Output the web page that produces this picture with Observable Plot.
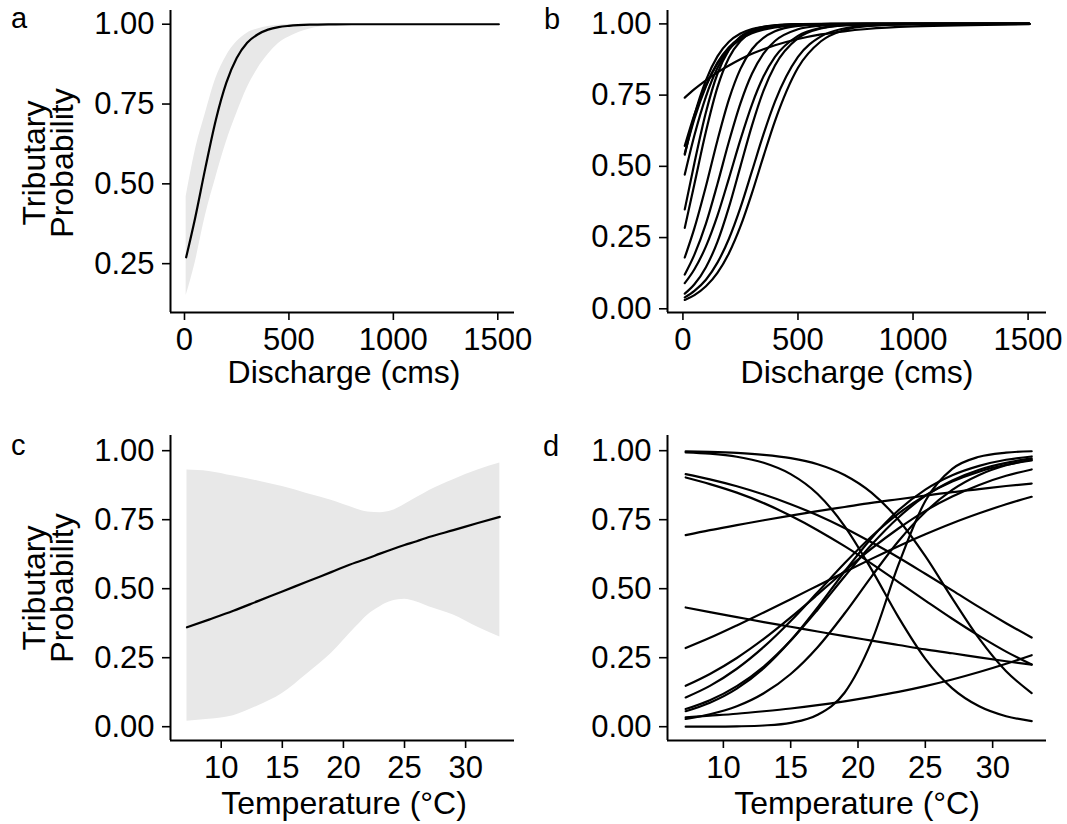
<!DOCTYPE html>
<html>
<head>
<meta charset="utf-8">
<script src="https://cdn.jsdelivr.net/npm/d3@7"></script>
<script src="https://cdn.jsdelivr.net/npm/@observablehq/plot@0.6"></script>
<style>
  body { margin: 0; background: #fff; }
  #fig { position: relative; width: 1067px; height: 824px; overflow: hidden; background: #fff; }
  #fig svg { position: absolute; }
  #fig g[aria-label$="tick"] { stroke-width: 1.6px; }
</style>
</head>
<body>
<div id="fig"></div>
<script>
// ---------- Panel a: discharge, fitted probability with ribbon ----------
const dischargeX = [8, 50, 100, 150, 200, 250, 300, 350, 400, 450, 500, 600, 700, 800, 1000, 1200, 1505];
const aFit   = [0.27, 0.39, 0.55, 0.70, 0.816, 0.894, 0.942, 0.968, 0.983, 0.991, 0.995, 0.9987, 0.9997, 1, 1, 1, 1];
const aUpper = [0.46, 0.60, 0.72, 0.83, 0.90, 0.945, 0.972, 0.985, 0.993, 0.997, 0.999, 1, 1, 1, 1, 1, 1];
const aLower = [0.15, 0.25, 0.40, 0.52, 0.63, 0.72, 0.80, 0.86, 0.905, 0.94, 0.96, 0.985, 0.995, 0.999, 1, 1, 1];

// ---------- Panel b: discharge, individual curves ----------
const bX = [8, 50, 100, 150, 200, 250, 300, 350, 400, 500, 600, 700, 800, 1000, 1505];
const bCurves = [
  [0.741, 0.771, 0.802, 0.830, 0.854, 0.876, 0.895, 0.911, 0.925, 0.947, 0.963, 0.974, 0.982, 0.991, 0.999],
  [0.572, 0.682, 0.784, 0.860, 0.912, 0.946, 0.967, 0.980, 0.988, 0.996, 0.9986, 0.9995, 1, 1, 1],
  [0.545, 0.667, 0.781, 0.864, 0.918, 0.952, 0.973, 0.984, 0.991, 0.997, 0.9991, 0.9997, 1, 1, 1],
  [0.541, 0.679, 0.802, 0.886, 0.937, 0.966, 0.982, 0.990, 0.995, 0.9986, 0.9996, 1, 1, 1, 1],
  [0.471, 0.609, 0.745, 0.845, 0.911, 0.950, 0.973, 0.985, 0.992, 0.9977, 0.9993, 1, 1, 1, 1],
  [0.349, 0.512, 0.690, 0.825, 0.909, 0.955, 0.978, 0.990, 0.995, 0.9989, 0.9998, 1, 1, 1, 1],
  [0.284, 0.438, 0.622, 0.777, 0.881, 0.940, 0.971, 0.986, 0.993, 0.9985, 0.9997, 1, 1, 1, 1],
  [0.180, 0.283, 0.430, 0.591, 0.735, 0.842, 0.911, 0.951, 0.974, 0.993, 0.998, 0.9995, 1, 1, 1],
  [0.120, 0.190, 0.299, 0.438, 0.587, 0.721, 0.825, 0.896, 0.940, 0.981, 0.994, 0.9983, 0.9995, 1, 1],
  [0.090, 0.139, 0.219, 0.327, 0.458, 0.594, 0.717, 0.815, 0.884, 0.958, 0.986, 0.9952, 0.9984, 0.9998, 1],
  [0.053, 0.086, 0.146, 0.235, 0.357, 0.500, 0.643, 0.765, 0.854, 0.950, 0.984, 0.995, 0.9985, 0.9999, 1],
  [0.040, 0.063, 0.102, 0.162, 0.246, 0.355, 0.483, 0.612, 0.727, 0.884, 0.956, 0.984, 0.9944, 0.9993, 1],
  [0.031, 0.048, 0.079, 0.126, 0.195, 0.289, 0.406, 0.535, 0.659, 0.846, 0.939, 0.978, 0.992, 0.999, 1]
];

// ---------- Panel c: temperature, fitted probability with ribbon ----------
const tempC  = [7.2, 9, 11, 13, 15, 17, 19, 21, 22, 23, 24, 25, 26, 27, 29, 31, 32.8];
const cFit   = [0.36, 0.388, 0.42, 0.455, 0.49, 0.525, 0.56, 0.595, 0.61, 0.627, 0.643, 0.658, 0.672, 0.687, 0.712, 0.738, 0.76];
const cUpper = [0.93, 0.925, 0.908, 0.89, 0.87, 0.845, 0.82, 0.79, 0.778, 0.775, 0.783, 0.805, 0.83, 0.855, 0.895, 0.93, 0.955];
const cLower = [0.02, 0.027, 0.04, 0.075, 0.12, 0.19, 0.265, 0.36, 0.405, 0.435, 0.455, 0.462, 0.452, 0.435, 0.405, 0.36, 0.325];

// ---------- Panel d: temperature, individual curves ----------
const tempD = [7.2, 9, 11, 13, 15, 17, 19, 21, 23, 25, 27, 29, 31, 32.9];
const dCurves = [
  [0.9975, 0.9957, 0.992, 0.985, 0.973, 0.951, 0.912, 0.848, 0.750, 0.618, 0.465, 0.319, 0.201, 0.122],
  [0.994, 0.989, 0.978, 0.956, 0.915, 0.843, 0.727, 0.570, 0.397, 0.246, 0.139, 0.074, 0.038, 0.020],
  [0.915, 0.896, 0.871, 0.841, 0.806, 0.766, 0.720, 0.668, 0.613, 0.554, 0.494, 0.433, 0.375, 0.323],
  [0.903, 0.879, 0.848, 0.810, 0.764, 0.712, 0.654, 0.591, 0.524, 0.457, 0.391, 0.329, 0.272, 0.225],
  [0.432, 0.415, 0.397, 0.379, 0.362, 0.345, 0.328, 0.312, 0.296, 0.280, 0.266, 0.251, 0.237, 0.225],
  [0.034, 0.040, 0.047, 0.056, 0.066, 0.078, 0.092, 0.108, 0.126, 0.147, 0.171, 0.198, 0.228, 0.259],
  [0.0002, 0.0004, 0.0014, 0.0044, 0.014, 0.043, 0.123, 0.308, 0.586, 0.818, 0.934, 0.978, 0.993, 0.998],
  [0.694, 0.712, 0.730, 0.748, 0.765, 0.781, 0.796, 0.811, 0.824, 0.837, 0.850, 0.861, 0.872, 0.881],
  [0.285, 0.322, 0.367, 0.414, 0.462, 0.511, 0.560, 0.608, 0.654, 0.697, 0.737, 0.773, 0.806, 0.833],
  [0.148, 0.191, 0.249, 0.318, 0.396, 0.479, 0.564, 0.645, 0.718, 0.782, 0.834, 0.876, 0.909, 0.932],
  [0.106, 0.148, 0.210, 0.289, 0.383, 0.487, 0.592, 0.689, 0.772, 0.838, 0.888, 0.924, 0.949, 0.965],
  [0.064, 0.096, 0.147, 0.218, 0.312, 0.424, 0.544, 0.659, 0.758, 0.836, 0.892, 0.931, 0.956, 0.972],
  [0.056, 0.087, 0.138, 0.212, 0.312, 0.432, 0.562, 0.683, 0.784, 0.859, 0.911, 0.945, 0.967, 0.979],
  [0.028, 0.045, 0.074, 0.121, 0.191, 0.288, 0.410, 0.544, 0.672, 0.778, 0.858, 0.912, 0.947, 0.967]
];

// ---------- Tick labels / text ----------
const dischargeTicks = [0, 500, 1000, 1500];
const tempTicks = [10, 15, 20, 25, 30];
const probTicksA = [0.25, 0.50, 0.75, 1.00];
const probTicks = [0.00, 0.25, 0.50, 0.75, 1.00];
const yTitle = ["Tributary", "Probability"];
const xTitleDischarge = "Discharge (cms)";
const xTitleTemp = "Temperature (°C)";
const panelLetters = ["a", "b", "c", "d"];

// ---------- Build ----------
const FONT = '"Liberation Sans", Arial, Helvetica, sans-serif';
const fig = document.getElementById("fig");

function panel({frame, xDomain, yDomain, xTicks, yTicks, marks}) {
  const mL = 90, mR = 14, mT = 14, mB = 80;
  const w = frame.right - frame.left, h = frame.bottom - frame.top;
  const svg = Plot.plot({
    width: w + mL + mR, height: h + mT + mB,
    marginLeft: mL, marginRight: mR, marginTop: mT, marginBottom: mB,
    style: {fontSize: "31px", fontFamily: FONT, color: "#000", background: "transparent", overflow: "visible"},
    x: {domain: xDomain, ticks: xTicks, tickSize: 8, tickPadding: 7, label: null, tickFormat: d3.format("d")},
    y: {domain: yDomain, ticks: yTicks, tickSize: 8, tickPadding: 8, label: null, tickFormat: d3.format(".2f")},
    marks: [
      ...marks,
      Plot.ruleX([xDomain[0]], {stroke: "#000", strokeWidth: 2}),
      Plot.ruleY([yDomain[0]], {stroke: "#000", strokeWidth: 2})
    ]
  });
  svg.style.left = (frame.left - mL) + "px";
  svg.style.top = (frame.top - mT) + "px";
  fig.appendChild(svg);
}

// Panel a
const aRows = dischargeX.map((x, i) => ({x, fit: aFit[i], lo: aLower[i], hi: aUpper[i]}));
panel({
  frame: {left: 170, right: 514, top: 10, bottom: 312},
  xDomain: [-67, 1580], yDomain: [0.097, 1.043],
  xTicks: dischargeTicks, yTicks: probTicksA,
  marks: [
    Plot.areaY(aRows, {x: "x", y1: "lo", y2: "hi", fill: "#e8e8e8", curve: "monotone-x"}),
    Plot.line(aRows, {x: "x", y: "fit", stroke: "#000", strokeWidth: 2.2, curve: "monotone-x"})
  ]
});

// Panel b
const bRows = bCurves.flatMap((c, k) => c.map((v, i) => ({x: bX[i], y: v, id: k})));
panel({
  frame: {left: 667, right: 1046, top: 10, bottom: 312},
  xDomain: [-67, 1580], yDomain: [-0.013, 1.047],
  xTicks: dischargeTicks, yTicks: probTicks,
  marks: [
    Plot.line(bRows, {x: "x", y: "y", z: "id", stroke: "#000", strokeWidth: 2.2, curve: "monotone-x"})
  ]
});

// Panel c
const cRows = tempC.map((x, i) => ({x, fit: cFit[i], lo: cLower[i], hi: cUpper[i]}));
panel({
  frame: {left: 170, right: 514, top: 435, bottom: 740},
  xDomain: [5.85, 34.0], yDomain: [-0.05, 1.055],
  xTicks: tempTicks, yTicks: probTicks,
  marks: [
    Plot.areaY(cRows, {x: "x", y1: "lo", y2: "hi", fill: "#e8e8e8", curve: "monotone-x"}),
    Plot.line(cRows, {x: "x", y: "fit", stroke: "#000", strokeWidth: 2.2, curve: "monotone-x"})
  ]
});

// Panel d
const dRows = dCurves.flatMap((c, k) => c.map((v, i) => ({x: tempD[i], y: v, id: k})));
panel({
  frame: {left: 667, right: 1046, top: 435, bottom: 740},
  xDomain: [5.85, 34.0], yDomain: [-0.05, 1.055],
  xTicks: tempTicks, yTicks: probTicks,
  marks: [
    Plot.line(dRows, {x: "x", y: "y", z: "id", stroke: "#000", strokeWidth: 2.2, curve: "monotone-x"})
  ]
});

// ---------- Text overlay: panel letters and axis titles ----------
const ov = d3.select(fig).append("svg")
  .attr("width", 1067).attr("height", 824)
  .style("left", "0px").style("top", "0px")
  .style("font-family", FONT).attr("fill", "#000");

const letterPos = [[11, 28], [544, 29], [11, 455], [543, 456]];
panelLetters.forEach((t, i) => {
  ov.append("text").attr("x", letterPos[i][0]).attr("y", letterPos[i][1])
    .attr("font-size", 29).text(t);
});

const xTitles = [
  {t: xTitleDischarge, x: 344, y: 383},
  {t: xTitleDischarge, x: 857, y: 383},
  {t: xTitleTemp, x: 344, y: 814},
  {t: xTitleTemp, x: 857, y: 814}
];
xTitles.forEach(d => {
  ov.append("text").attr("x", d.x).attr("y", d.y).attr("text-anchor", "middle")
    .attr("font-size", 32).text(d.t);
});

[163, 588].forEach(cy => {
  const g = ov.append("g").attr("transform", `translate(0,${cy}) rotate(-90)`);
  g.append("text").attr("x", 0).attr("y", 45).attr("text-anchor", "middle")
    .attr("font-size", 32).text(yTitle[0]);
  g.append("text").attr("x", 0).attr("y", 73).attr("text-anchor", "middle")
    .attr("font-size", 32).text(yTitle[1]);
});
</script>
</body>
</html>
